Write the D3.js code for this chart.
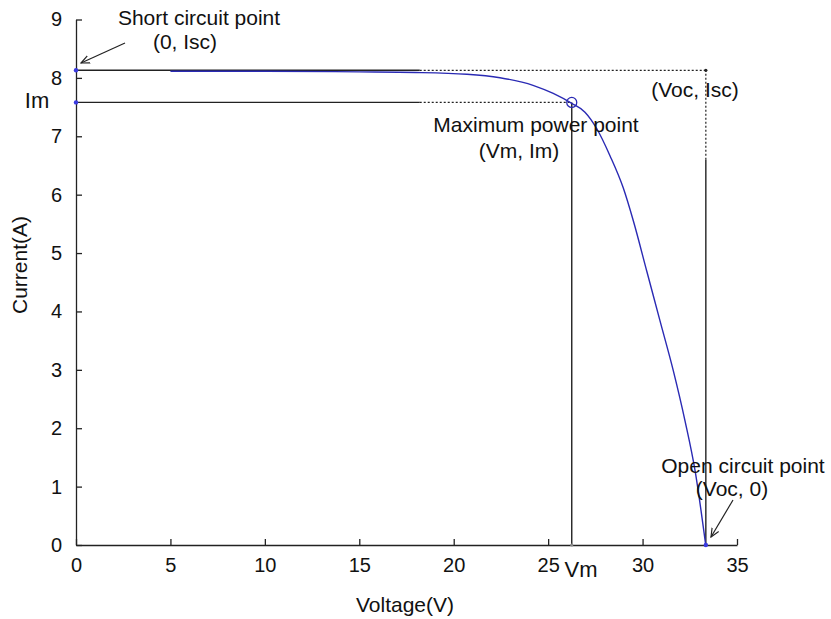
<!DOCTYPE html>
<html>
<head>
<meta charset="utf-8">
<script src="https://cdn.jsdelivr.net/npm/d3@7"></script>
<style>
  body { margin: 0; background: #fff; }
  svg text { font-family: 'Liberation Sans', Arial, sans-serif; fill: #111; }
</style>
</head>
<body>
<svg id="chart" width="831" height="619"></svg>
<script>
// I-V curve of the PV module
const voltage = [0, 5, 10, 15, 18, 20.7, 22.45, 24.2, 25.27, 26.25, 26.95, 27.57, 28.28, 28.98, 29.51, 30.22, 30.92, 31.63, 32.25, 32.78, 33.35];
const current = [8.13, 8.13, 8.13, 8.12, 8.11, 8.08, 8.02, 7.89, 7.75, 7.58, 7.43, 7.15, 6.68, 6.13, 5.57, 4.71, 3.86, 3.0, 2.14, 1.29, 0];

// key points
const Isc = 8.13, Voc = 33.35, Vm = 26.25, Im = 7.58;
const solidEnd = 18.2;   // where the solid guide lines turn dotted
const vocSolidTop = 6.6; // Voc guide is solid below this current

const xTicks = [0, 5, 10, 15, 20, 25, 30, 35];
const yTicks = [0, 1, 2, 3, 4, 5, 6, 7, 8, 9];

const svg = d3.select("#chart");
const x = d3.scaleLinear().domain([0, 35]).range([76, 737]);
const y = d3.scaleLinear().domain([0, 9]).range([545, 19.5]);

// axes, ticks pointing inward
const xAxis = svg.append("g").attr("transform", `translate(0,${y(0)})`)
    .call(d3.axisBottom(x).tickValues(xTicks).tickSizeInner(-6).tickSizeOuter(0).tickPadding(13));
const yAxis = svg.append("g").attr("transform", `translate(${x(0)},0)`)
    .call(d3.axisLeft(y).tickValues(yTicks).tickSizeInner(-6).tickSizeOuter(0).tickPadding(14));
[xAxis, yAxis].forEach(a => {
    a.select(".domain").attr("stroke", "#222").attr("stroke-width", 1.3);
    a.selectAll(".tick line").attr("stroke", "#222").attr("stroke-width", 1.3);
    a.selectAll(".tick text").attr("font-size", 20).attr("fill", "#111")
        .style("font-family", "'Liberation Sans', Arial, sans-serif");
});

// guide lines
const guide = (x1, y1, x2, y2, dotted) => svg.append("line")
    .attr("x1", x(x1)).attr("y1", y(y1)).attr("x2", x(x2)).attr("y2", y(y2))
    .attr("stroke", "#222").attr("stroke-width", dotted ? 1.2 : 1.4)
    .attr("stroke-dasharray", dotted ? "2,2" : null);

guide(0, Isc, solidEnd, Isc, false);
guide(solidEnd, Isc, Voc, Isc, true);
guide(0, Im, solidEnd, Im, false);
guide(solidEnd, Im, Vm, Im, true);
guide(Vm, 0, Vm, Im, false);
guide(Voc, 0, Voc, vocSolidTop, false);
guide(Voc, vocSolidTop, Voc, Isc, true);

// the curve
const line = d3.line().x(d => x(d[0])).y(d => y(d[1])).curve(d3.curveMonotoneX);
const pts = d3.zip(voltage, current);
svg.append("path").datum(pts.filter(d => d[0] >= 5))
    .attr("d", line).attr("fill", "none").attr("stroke", "#2a2ab4").attr("stroke-width", 1.4)
    .attr("transform", "translate(0,1)");

// markers
svg.append("circle").attr("cx", x(Vm)).attr("cy", y(Im)).attr("r", 5)
    .attr("fill", "none").attr("stroke", "#2a2ab4").attr("stroke-width", 1.3);
[[0, Isc], [0, Im], [Voc, 0]].forEach(p => svg.append("circle")
    .attr("cx", x(p[0])).attr("cy", y(p[1])).attr("r", 2.2).attr("fill", "#3a3ae0"));
svg.append("circle").attr("cx", x(Voc)).attr("cy", y(Isc)).attr("r", 1.6).attr("fill", "#222");
svg.append("circle").attr("cx", x(Vm)).attr("cy", y(0)).attr("r", 1.6).attr("fill", "#888");

// arrows
const defs = svg.append("defs");
defs.append("marker").attr("id", "arr").attr("viewBox", "0 0 10 10").attr("refX", 9).attr("refY", 5)
    .attr("markerWidth", 8).attr("markerHeight", 8).attr("orient", "auto")
    .append("path").attr("d", "M0,1 L9,5 L0,9").attr("fill", "none").attr("stroke", "#222").attr("stroke-width", 1.2);
svg.append("line").attr("x1", 125).attr("y1", 43).attr("x2", 81).attr("y2", 63)
    .attr("stroke", "#222").attr("stroke-width", 1.2).attr("marker-end", "url(#arr)");
svg.append("line").attr("x1", 733).attr("y1", 500).attr("x2", 711).attr("y2", 537)
    .attr("stroke", "#222").attr("stroke-width", 1.2).attr("marker-end", "url(#arr)");

// annotations
const label = (t, px, py, size) => svg.append("text")
    .attr("x", px).attr("y", py).attr("text-anchor", "middle")
    .attr("font-size", size || 21).text(t);

label("Short circuit point", 199, 24.5);
label("(0, Isc)", 185, 48.5);
label("Im", 37, 108, 22);
label("(Voc, Isc)", 695, 97);
label("Maximum power point", 536, 132);
label("(Vm, Im)", 519, 158);
label("Open circuit point", 743, 472.5);
label("(Voc, 0)", 732, 496);
label("Vm", 581, 577, 22);
label("Voltage(V)", 405, 612);
svg.append("text").attr("transform", "translate(27,265) rotate(-90)")
    .attr("text-anchor", "middle").attr("font-size", 21).text("Current(A)");
</script>
</body>
</html>
